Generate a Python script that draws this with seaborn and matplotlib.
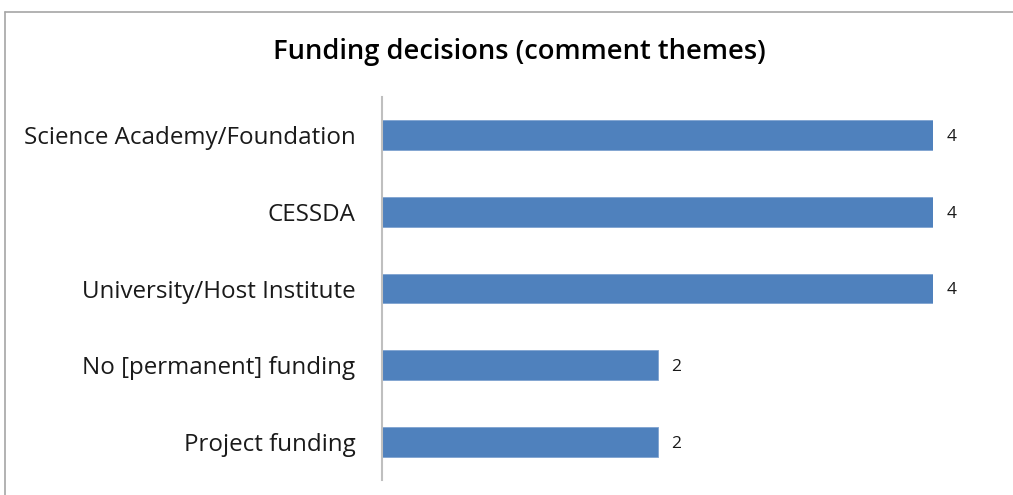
import matplotlib
matplotlib.use("Agg")
import matplotlib.pyplot as plt
import seaborn as sns
import pandas as pd
from matplotlib.lines import Line2D

categories = ["Science Academy/Foundation", "CESSDA", "University/Host Institute",
              "No [permanent] funding", "Project funding"]
values = [4, 4, 4, 2, 2]
title = "Funding decisions (comment themes)"

sns.set_theme(style="white")
plt.rcParams['font.family'] = ['Open Sans', 'DejaVu Sans']

W, H = 1013, 495
fig = plt.figure(figsize=(W / 100, H / 100), dpi=100)
ax = fig.add_axes([382 / W, 1 - 480 / H, (933 - 382) / W, (480 - 97) / H])

df = pd.DataFrame({"cat": categories, "val": values})
sns.barplot(data=df, x="val", y="cat", orient="h", color="#4F81BD",
            width=0.39, saturation=1, edgecolor="#7FA3D0", linewidth=0.6, ax=ax)

ax.set_xlim(0, 4)
ax.set_ylim(4.5, -0.5)
ax.set_xlabel("")
ax.set_ylabel("")
ax.set_xticks([])
for s in ["top", "right", "bottom"]:
    ax.spines[s].set_visible(False)
ax.spines["left"].set_color("#BFBFBF")
ax.spines["left"].set_linewidth(1.5)
ax.tick_params(axis="y", length=0, pad=19, labelsize=17.4, labelcolor="#1a1a1a")

for c in ax.containers:
    labs = ax.bar_label(c, labels=[str(v) for v in values], padding=10, fontsize=12.5, color="#1a1a1a")
    for t in labs:
        t.set_va("center_baseline")

fig.text(519 / W, 1 - 52 / H, title, ha="center", va="center",
         fontsize=19.7, fontweight="semibold", color="black")

fig.add_artist(Line2D([5 / W, 1], [1 - 12 / H, 1 - 12 / H], transform=fig.transFigure,
                      color="#A6A6A6", linewidth=1.2))
fig.add_artist(Line2D([5 / W, 5 / W], [1 - 12 / H, 0], transform=fig.transFigure,
                      color="#A6A6A6", linewidth=1.2))

fig.savefig("out.png", dpi=100, facecolor="white")
